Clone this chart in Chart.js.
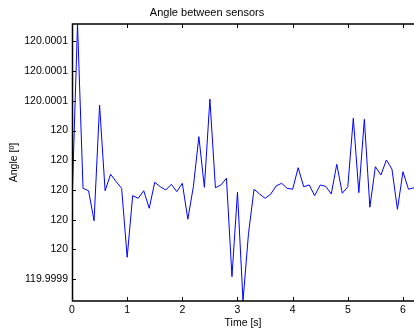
<!DOCTYPE html>
<html>
<head>
  <title>Angle between sensors</title>
  <script src="https://cdn.jsdelivr.net/npm/chart.js"></script>
  <style>
    body {
      margin: 0;
      padding: 0;
      background-color: #ffffff;
    }
    #wrap {
      width: 414px;
      height: 334px;
    }
  </style>
</head>
<body>
  <div id="wrap">
    <canvas id="chart" width="414" height="334"></canvas>
  </div>

  <script>
    const times = [
      0, 0.1, 0.2, 0.3, 0.4, 0.5, 0.6, 0.7, 0.8, 0.9,
      1.0, 1.1, 1.2, 1.3, 1.4, 1.5, 1.6, 1.7, 1.8, 1.9,
      2.0, 2.1, 2.2, 2.3, 2.4, 2.5, 2.6, 2.7, 2.8, 2.9,
      3.0, 3.1, 3.2, 3.3, 3.4, 3.5, 3.6, 3.7, 3.8, 3.9,
      4.0, 4.1, 4.2, 4.3, 4.4, 4.5, 4.6, 4.7, 4.8, 4.9,
      5.0, 5.1, 5.2, 5.3, 5.4, 5.5, 5.6, 5.7, 5.8, 5.9,
      6.0, 6.1, 6.2
    ];
    const angles = [
      119.999991, 120.0001117, 120.0000011, 119.9999995, 119.9999793,
      120.0000572, 119.9999995, 120.0000106, 120.0000056, 120.0000011,
      119.9999547, 119.9999962, 119.9999944, 119.9999995, 119.9999877,
      120.0000052, 120.0000022, 120.0000000, 120.0000038, 119.9999989,
      120.0000045, 119.9999803, 120.0000022, 120.0000359, 120.0000018,
      120.0000612, 120.0000015, 120.0000034, 120.0000079, 119.9999417,
      119.9999985, 119.9999253, 119.9999709, 120.0000005, 119.9999973,
      119.9999944, 119.9999971, 120.0000027, 120.0000045, 120.0000011,
      120.0000005, 120.0000150, 120.0000022, 120.0000034, 119.9999962,
      120.0000034, 120.0000024, 119.9999973, 120.0000173, 119.9999978,
      120.0000022, 120.0000483, 119.9999982, 120.0000476, 119.9999884,
      120.0000157, 120.0000101, 120.0000202, 120.0000141, 119.999987,
      120.0000123, 120.0000005, 120.0000015
    ];

    const xTicks = [0, 1, 2, 3, 4, 5, 6];
    const yTicks = [119.99994, 119.99996, 119.99998, 120, 120.00002, 120.00004, 120.00006, 120.00008, 120.0001];
    const yTickLabels = ['119.9999', '120', '120', '120', '120', '120', '120.0001', '120.0001', '120.0001'];

    const FONT = '"Liberation Sans", Arial, Helvetica, sans-serif';

    // MATLAB style axes: box on left/top/bottom (right edge is cut off), ticks pointing inward
    const boxPlugin = {
      id: 'matlabBox',
      afterDatasetsDraw(chart) {
        const { ctx, chartArea: a, scales } = chart;
        ctx.save();
        ctx.strokeStyle = '#000';
        ctx.lineWidth = 1;
        ctx.beginPath();
        xTicks.forEach(v => {
          const px = Math.round(scales.x.getPixelForValue(v)) + 0.5;
          ctx.moveTo(px, a.bottom);
          ctx.lineTo(px, a.bottom - 4);
          ctx.moveTo(px, a.top);
          ctx.lineTo(px, a.top + 4);
        });
        yTicks.forEach(v => {
          const py = Math.round(scales.y.getPixelForValue(v)) + 0.5;
          ctx.moveTo(a.left, py);
          ctx.lineTo(a.left + 4, py);
        });
        ctx.stroke();
        ctx.lineWidth = 1.5;
        ctx.beginPath();
        ctx.moveTo(a.right + 2, a.top);
        ctx.lineTo(a.left + 0.5, a.top);
        ctx.lineTo(a.left + 0.5, a.bottom);
        ctx.lineTo(a.right + 2, a.bottom);
        ctx.stroke();
        ctx.restore();
      }
    };

    const ctx = document.getElementById('chart').getContext('2d');
    const chart = new Chart(ctx, {
      type: 'line',
      data: {
        datasets: [{
          data: times.map((t, i) => ({ x: t, y: angles[i] })),
          borderColor: '#0000ff',
          borderWidth: 1,
          pointRadius: 0,
          tension: 0,
          fill: false
        }]
      },
      options: {
        responsive: false,
        animation: false,
        devicePixelRatio: 1,
        layout: { padding: 0 },
        plugins: {
          legend: { display: false },
          tooltip: { enabled: false },
          title: {
            display: true,
            text: 'Angle between sensors',
            color: '#000',
            font: { family: FONT, size: 11, weight: 'normal' },
            padding: { top: 6, bottom: 4.8 }
          }
        },
        scales: {
          x: {
            type: 'linear',
            min: 0,
            max: 6.2,
            grid: { display: false, drawTicks: false },
            border: { display: false },
            afterBuildTicks: s => { s.ticks = xTicks.map(v => ({ value: v })); },
            afterFit: s => { s.height = 33; },
            ticks: {
              color: '#000',
              padding: 3,
              maxRotation: 0,
              font: { family: FONT, size: 10.5 },
              callback: v => String(v)
            },
            title: {
              display: true,
              text: 'Time [s]',
              color: '#000',
              font: { family: FONT, size: 10.5 },
              padding: { top: 0, bottom: 4.7 }
            }
          },
          y: {
            type: 'linear',
            min: Math.min(...angles),
            max: Math.max(...angles),
            grid: { display: false, drawTicks: false },
            border: { display: false },
            afterBuildTicks: s => { s.ticks = yTicks.map(v => ({ value: v })); },
            afterFit: s => { s.width = 72; },
            ticks: {
              color: '#000',
              padding: 4,
              font: { family: FONT, size: 10.5 },
              callback: (v, i) => yTickLabels[i]
            },
            title: {
              display: true,
              text: 'Angle [º]',
              color: '#000',
              font: { family: FONT, size: 10.5 },
              padding: { top: 7.7, bottom: 0 }
            }
          }
        }
      },
      plugins: [boxPlugin]
    });
  </script>
</body>
</html>
